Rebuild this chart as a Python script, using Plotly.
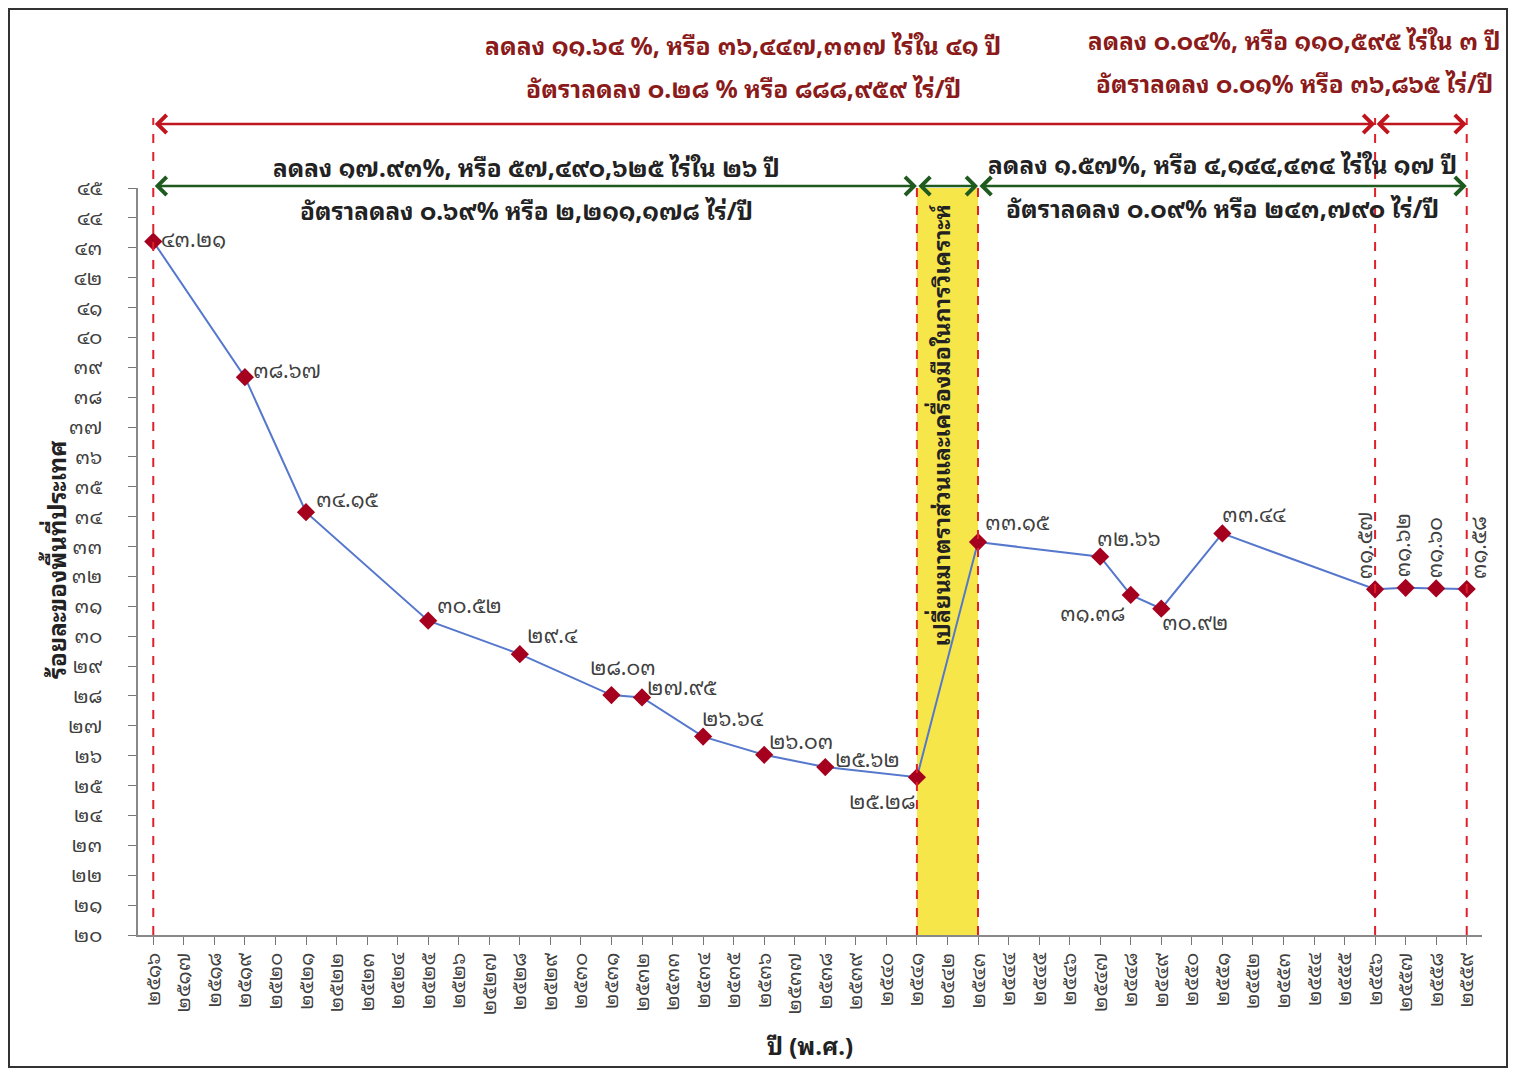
import plotly.graph_objects as go

# ---------------- data ----------------
years = [2516, 2519, 2521, 2525, 2528, 2531, 2532, 2534, 2536, 2538, 2541,
         2543, 2547, 2548, 2549, 2551, 2556, 2557, 2558, 2559]
forest_pct = [43.21, 38.67, 34.15, 30.52, 29.4, 28.03, 27.95, 26.64, 26.03, 25.62, 25.28,
              33.15, 32.66, 31.38, 30.92, 33.44, 31.57, 31.62, 31.60, 31.58]
value_labels = ["43.21", "38.67", "34.15", "30.52", "29.4", "28.03", "27.95", "26.64",
                "26.03", "25.62", "25.28", "33.15", "32.66", "31.38", "30.92", "33.44",
                "31.57", "31.62", "31.60", "31.58"]
axis_years = list(range(2516, 2560))
y_ticks = list(range(20, 46))

period_breaks = [2516, 2541, 2543, 2556, 2559]

title_red_left = ["ลดลง ๑๑.๖๔ %, หรือ ๓๖,๔๔๗,๓๓๗ ไร่ใน ๔๑ ปี",
                  "อัตราลดลง ๐.๒๘ % หรือ ๘๘๘,๙๕๙ ไร่/ปี"]
title_red_right = ["ลดลง ๐.๐๔%, หรือ ๑๑๐,๕๙๕ ไร่ใน ๓ ปี",
                   "อัตราลดลง ๐.๐๑% หรือ ๓๖,๘๖๕ ไร่/ปี"]
title_black_left = ["ลดลง ๑๗.๙๓%, หรือ ๕๗,๔๙๐,๖๒๕ ไร่ใน ๒๖ ปี",
                    "อัตราลดลง ๐.๖๙% หรือ ๒,๒๑๑,๑๗๘ ไร่/ปี"]
title_black_right = ["ลดลง ๑.๕๗%, หรือ ๔,๑๔๔,๔๓๔ ไร่ใน ๑๗ ปี",
                     "อัตราลดลง ๐.๐๙% หรือ ๒๔๓,๗๙๐ ไร่/ปี"]
band_text = "เปลี่ยนมาตราส่วนและเครื่องมือในการวิเคราะห์"
y_title = "ร้อยละของพื้นที่ประเทศ"
x_title = "ปี (พ.ศ.)"

# ---------------- helpers / styles ----------------
THAI = str.maketrans("0123456789", "๐๑๒๓๔๕๖๗๘๙")


def th(s):
    return str(s).translate(THAI)


FONT = "Noto Sans Thai Looped, Noto Serif Thai, Noto Sans Thai, Tahoma, sans-serif"
RED = "#C0141E"
DARKRED = "#8B1A1A"
GREEN = "#1F5A1F"
TXT = "#404040"

# label placement per point: (xanchor, yanchor, xshift, yshift, angle)
label_pos = [
    ("left", "middle", 6, 4, 0), ("left", "middle", 6, 9, 0), ("left", "middle", 8, 15, 0),
    ("left", "middle", 7, 17, 0), ("left", "middle", 5, 21, 0), ("center", "middle", 12, 30, 0),
    ("left", "middle", 3, 12, 0), ("left", "middle", -3, 20, 0), ("left", "middle", 3, 15, 0),
    ("left", "middle", 8, 10, 0), ("right", "middle", 0, -22, 0), ("left", "middle", 5, 22, 0),
    ("left", "middle", -5, 20, 0), ("right", "middle", -4, -17, 0), ("left", "middle", -1, -12, 0),
    ("left", "middle", -2, 21, 0), ("center", "bottom", -13, 8, -90), ("center", "bottom", -5, 8, -90),
    ("center", "bottom", -4, 8, -90), ("center", "bottom", 10, 8, -90),
]

# page offset of the figure (body margin) and target pixel geometry (page coords)
OFF = 8
W, H = 1516 - 2 * OFF, 1076 - 2 * OFF
L, R, T, B = 138, 1482, 188, 935
PW, PH = R - L, B - T

fig = go.Figure()

fig.add_trace(go.Scatter(
    x=years, y=forest_pct, mode="lines+markers",
    line=dict(color="#5577CC", width=2),
    marker=dict(symbol="diamond", size=14, color="#A5001E"),
    cliponaxis=False, showlegend=False,
))

annotations = []
for yr, v, lab, (xa, ya, xs, ys, ang) in zip(years, forest_pct, value_labels, label_pos):
    annotations.append(dict(
        x=yr, y=v, xref="x", yref="y", text=th(lab), showarrow=False,
        xanchor=xa, yanchor=ya, xshift=xs, yshift=ys, textangle=ang,
        font=dict(family=FONT, size=21, color=TXT),
    ))


def ydom(py):
    return (B - py) / PH


def xpap(px):
    return (px - L) / PW


# double-headed arrows
def arrow(x0, x1, py, color):
    annotations.append(dict(
        x=x1, y=ydom(py), xref="x", yref="y domain",
        ax=x0, ay=ydom(py), axref="x", ayref="y domain",
        text="", showarrow=True, arrowside="end+start", arrowhead=4,
        arrowsize=1.4, arrowwidth=2.5, arrowcolor=color, standoff=0, startstandoff=0,
    ))


arrow(period_breaks[0], period_breaks[3], 124, RED)
arrow(period_breaks[3], period_breaks[4], 124, RED)
arrow(period_breaks[0], period_breaks[1], 186, GREEN)
arrow(period_breaks[1], period_breaks[2], 186, GREEN)
arrow(period_breaks[2], period_breaks[4], 186, GREEN)


def text_ann(px, py, txt, color, size):
    annotations.append(dict(
        x=xpap(px), y=ydom(py), xref="paper", yref="y domain", text="<b>%s</b>" % txt,
        showarrow=False, xanchor="center", yanchor="middle",
        font=dict(family=FONT, size=size, color=color),
    ))


text_ann(743, 44, title_red_left[0], DARKRED, 24.7)
text_ann(743, 87, title_red_left[1], DARKRED, 24.7)
text_ann(1294, 40, title_red_right[0], DARKRED, 24.3)
text_ann(1294, 82, title_red_right[1], DARKRED, 24.3)
text_ann(526, 166, title_black_left[0], "#222222", 24.3)
text_ann(526, 209, title_black_left[1], "#222222", 24.3)
text_ann(1222, 163, title_black_right[0], "#222222", 24.5)
text_ann(1222, 207, title_black_right[1], "#222222", 24.5)

annotations.append(dict(
    x=(period_breaks[1] + period_breaks[2]) / 2, y=ydom(425), xref="x", yref="y domain",
    text="<b>%s</b>" % band_text, showarrow=False, textangle=-90,
    xanchor="center", yanchor="middle", xshift=-8,
    font=dict(family=FONT, size=23, color="#222222"),
))

# y-axis title placed at its reference position
annotations.append(dict(
    x=xpap(55), y=ydom(560), xref="paper", yref="y domain",
    text="<b>%s</b>" % y_title, showarrow=False, textangle=-90,
    xanchor="center", yanchor="middle",
    font=dict(family=FONT, size=24, color="#222222"),
))

shapes = []
# yellow band
shapes.append(dict(type="rect", xref="x", yref="y domain", x0=period_breaks[1], x1=period_breaks[2],
                   y0=0, y1=1, fillcolor="#F7E64A", line=dict(width=0), layer="below"))
# red dashed lines
for xb in period_breaks:
    top = 1.004 if xb in (period_breaks[1], period_breaks[2]) else ydom(118)
    shapes.append(dict(type="line", xref="x", yref="y domain", x0=xb, x1=xb, y0=0, y1=top,
                       line=dict(color="#E0202A", width=2, dash="dash")))
# outer frame (figure edges)
shapes.append(dict(type="rect", xref="paper", yref="paper",
                   x0=xpap(OFF + 1), x1=xpap(OFF + W - 1), y0=ydom(OFF + H - 1), y1=ydom(OFF + 1),
                   line=dict(color="#333333", width=2), fillcolor="rgba(0,0,0,0)"))

fig.update_layout(
    width=W, height=H,
    margin=dict(l=L - OFF, r=OFF + W - R, t=T - OFF, b=OFF + H - B),
    paper_bgcolor="white", plot_bgcolor="white",
    font=dict(family=FONT, color=TXT),
    annotations=annotations, shapes=shapes,
    xaxis=dict(
        range=[axis_years[0] - 0.5, axis_years[-1] + 0.5],
        tickmode="array", tickvals=axis_years, ticktext=[th(y) for y in axis_years],
        tickangle=-90, ticks="outside", ticklen=8, tickcolor="#777777",
        showline=True, linecolor="#888888", linewidth=1.5, showgrid=False, zeroline=False,
        tickfont=dict(family=FONT, size=20, color=TXT),
        title=dict(text="<b>%s</b>" % x_title, font=dict(family=FONT, size=24, color="#222222"),
                   standoff=24),
    ),
    yaxis=dict(
        range=[y_ticks[0], y_ticks[-1]],
        tickmode="array", tickvals=y_ticks, ticktext=[th(v) for v in y_ticks],
        ticks="outside", ticklen=8, tickcolor="#777777", ticklabelstandoff=22,
        showline=True, linecolor="#888888", linewidth=1.5, showgrid=False, zeroline=False,
        tickfont=dict(family=FONT, size=20, color=TXT),
    ),
)

fig.write_html("out.html")
